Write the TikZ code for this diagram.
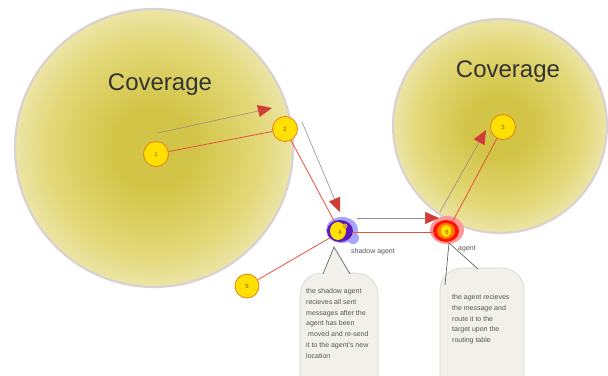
\documentclass[tikz,border=0pt]{standalone}
\usepackage{fontspec}
\setmainfont{Liberation Sans}
\usetikzlibrary{arrows.meta}
\definecolor{covdark}{RGB}{210,196,70}
\definecolor{covmid}{RGB}{226,216,120}
\definecolor{covpale}{RGB}{242,237,196}
\definecolor{rim}{RGB}{218,210,210}
\definecolor{hopfill}{RGB}{255,224,0}
\definecolor{hopedge}{RGB}{226,128,30}
\definecolor{hoptext}{RGB}{120,90,30}
\definecolor{linkred}{RGB}{232,80,60}
\definecolor{movegray}{RGB}{150,140,140}
\definecolor{tipred}{RGB}{208,60,55}
\definecolor{boxfill}{RGB}{241,240,234}
\definecolor{boxedge}{RGB}{214,212,204}
\definecolor{pointer}{RGB}{100,100,100}
\definecolor{notetext}{RGB}{85,85,85}
\pgfdeclareradialshading{coverglow}{\pgfpoint{0bp}{0bp}}{color(0bp)=(covdark); color(7bp)=(covdark); color(19bp)=(covmid); color(29bp)=(covpale); color(33.5bp)=(white); color(50bp)=(white)}
\tikzset{
  cover/.style={circle, draw=rim, line width=2.2pt, shade, shading=coverglow, inner sep=0pt},
  hop/.style={circle, draw=hopedge, fill=hopfill, line width=0.8pt, minimum size=25pt, inner sep=0pt, text=hoptext, font=\fontsize{6}{6}\selectfont},
  agent/.style={circle, minimum size=24pt, inner sep=0pt, text=hoptext, font=\fontsize{6}{6}\selectfont},
  link/.style={draw=linkred, line width=0.8pt},
  move/.style={draw=movegray, line width=0.6pt, -{Triangle[length=14pt,width=12pt,color=tipred]}},
  callout/.style={draw=boxedge, fill=boxfill, line width=0.6pt, rounded corners=22pt},
  note/.style={inner sep=0pt, anchor=north west, align=left, text=notetext, font=\fontsize{7}{10.9}\selectfont},
}
\begin{document}
\begin{tikzpicture}[x=1pt,y=-1pt]
	\useasboundingbox (0,0) rectangle (608,375);

	\node[cover, minimum size=278pt] (leftcov) at (154,148) {};
	\node[cover, minimum size=214pt] (rightcov) at (500,126) {};
	\node[anchor=base, text=black!80, font=\fontsize{24}{24}\selectfont] (leftname) at (160,90) {Coverage};
	\node[anchor=base, text=black!80, font=\fontsize{24}{24}\selectfont] (rightname) at (508,77) {Coverage};

	\fill[blue!35!white] (342,230) ellipse [x radius=16pt, y radius=13pt];
	\fill[blue!35!white] (353,238) circle [radius=6pt];
	\fill[blue!70!red!90!white] (340,231) ellipse [x radius=13pt, y radius=11pt];
	\fill[hopfill] (338,231) ellipse [x radius=8pt, y radius=9pt];
	\fill[brown!60!hopfill] (345,226) circle [radius=2.5pt];
	\fill[red!40!white] (447,230) ellipse [x radius=17pt, y radius=14pt];
	\fill[red!85!orange] (446,231) ellipse [x radius=13pt, y radius=11pt];
	\fill[orange] (446,231) ellipse [x radius=9pt, y radius=8pt];
	\fill[hopfill] (446,231) ellipse [x radius=5pt, y radius=6pt];

	\node[hop] (n1) at (156,154) {1};
	\node[hop] (n2) at (285,129) {2};
	\node[hop] (n3) at (503,127) {3};
	\node[agent] (n4) at (340,232) {4};
	\node[hop, minimum size=24pt] (n5) at (247,286) {5};
	\node[agent] (n6) at (447,232) {6};

	\draw[link] (n1) -- (n2);
	\draw[link] (n2) -- (n4);
	\draw[link] (n4) -- (n6);
	\draw[link] (n6) -- (n3);
	\draw[link] (n5) -- (n4);

	\coordinate (m1) at (158,133);
	\coordinate (m1end) at (272,108);
	\coordinate (m2) at (302,122);
	\coordinate (m2end) at (340,212);
	\coordinate (m3) at (357,218);
	\coordinate (m3end) at (439,218);
	\coordinate (m4) at (440,212);
	\coordinate (m4end) at (486,130);
	\draw[move] (m1) -- (m1end);
	\draw[move] (m2) -- (m2end);
	\draw[move] (m3) -- (m3end);
	\draw[move] (m4) -- (m4end);

	\node[text=notetext, font=\fontsize{7}{7}\selectfont] (shadowlabel) at (373,252) {shadow agent};
	\node[text=notetext, font=\fontsize{7}{7}\selectfont] (agentlabel) at (467,249) {agent};

	\coordinate (tip1) at (334,247);
	\coordinate (tip2) at (449,243);
	\draw[callout] (300,273) rectangle (378,400);
	\filldraw[fill=boxfill, draw=pointer, line width=0.7pt] (323,274) -- (tip1) -- (350,274);
	\draw[callout] (440,268) rectangle (524,400);
	\draw[pointer, line width=0.7pt] (445,285) -- (tip2) -- (478,269);

	\node[note] (shadownote) at (306,288) {the shadow agent\\recieves all sent\\messages after the\\agent has been\\\hspace{2pt}moved and re-send\\it to the agent's new\\location};
	\node[note] (agentnote) at (452,294) {the agent recieves\\the message and\\route it to the\\target upon the\\routing table};
\end{tikzpicture}
\end{document}
